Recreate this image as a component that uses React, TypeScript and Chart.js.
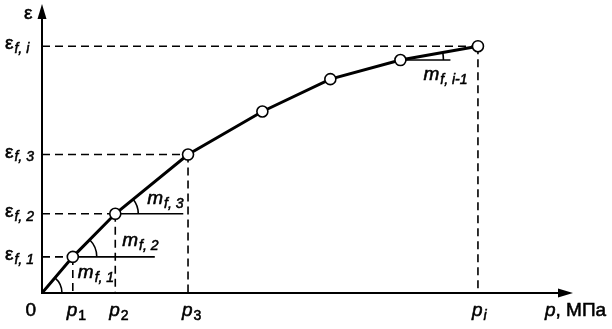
import React, { useEffect, useRef } from "react";
import { Chart, registerables } from "chart.js";
Chart.register(...registerables);

// Pressure p (arbitrary units along the axis) and strain ε (arbitrary units)
const pressure = [0, 5.8, 13.8, 27.5, 41.5, 54.3, 67.5, 82.1];
const strain = [0, 12.5, 27.4, 47.9, 62.8, 74.0, 80.6, 85.4];
// Points that get dashed projections and axis labels
const markedIndices = [1, 2, 3, 7];
const pLabelSubs = ["1", "2", "3", "i"];
const epsLabelSubs = ["f, 1", "f, 2", "f, 3", "f, i"];
// Secant slopes m_f: segment start index and subscript
const slopeStart = [0, 1, 2, 6];
const slopeSubs = ["f, 1", "f, 2", "f, 3", "f, i-1"];
const xAxisTitle = "p";
const xAxisUnit = ", МПа";
const yAxisTitle = "ε";
const originLabel = "0";

const FONT = "'Liberation Sans', Arial, sans-serif";
const THICK = 0.55;

function txt(ctx: CanvasRenderingContext2D, s: string, x: number, y: number) {
  ctx.fillText(s, x, y);
  ctx.lineWidth = THICK;
  ctx.strokeText(s, x, y);
}

function drawSub(ctx: CanvasRenderingContext2D, main: string, sub: string, x: number, y: number, mainFont: string, subFont: string, subDy = 5, gap = 1) {
  ctx.font = mainFont;
  ctx.textAlign = "left";
  ctx.textBaseline = "middle";
  txt(ctx, main, x, y);
  const w = ctx.measureText(main).width;
  ctx.font = subFont;
  txt(ctx, sub, x + w + gap, y + subDy);
}

const decorPlugin = {
  id: "decor",
  beforeDatasetsDraw(chart: any) {
    const { ctx, chartArea, scales } = chart;
    const X = (v: number) => scales.x.getPixelForValue(v);
    const Y = (v: number) => scales.y.getPixelForValue(v);
    const x0 = X(0);
    const y0 = Y(0);
    ctx.save();
    ctx.strokeStyle = "#000";
    ctx.fillStyle = "#000";

    // dashed projections
    ctx.lineWidth = 1.6;
    ctx.setLineDash([8, 5]);
    ctx.beginPath();
    markedIndices.forEach((i) => {
      const px = X(pressure[i]);
      const py = Y(strain[i]);
      ctx.moveTo(x0, py);
      ctx.lineTo(px, py);
      ctx.moveTo(px, py);
      ctx.lineTo(px, y0);
    });
    ctx.stroke();
    ctx.setLineDash([]);

    // axes
    ctx.lineWidth = 2;
    ctx.beginPath();
    ctx.moveTo(x0, y0);
    ctx.lineTo(x0, chartArea.top + 10);
    ctx.moveTo(x0 - 1, y0);
    ctx.lineTo(chartArea.right - 10, y0);
    ctx.stroke();
    // arrow heads
    ctx.beginPath();
    ctx.moveTo(x0, chartArea.top);
    ctx.lineTo(x0 - 4.5, chartArea.top + 15);
    ctx.lineTo(x0 + 4.5, chartArea.top + 15);
    ctx.closePath();
    ctx.fill();
    ctx.beginPath();
    ctx.moveTo(chartArea.right, y0);
    ctx.lineTo(chartArea.right - 15, y0 - 4.5);
    ctx.lineTo(chartArea.right - 15, y0 + 4.5);
    ctx.closePath();
    ctx.fill();

    // slope reference lines and angle arcs
    const refLen = [0, 82, 68, 50];
    const arcR = [20, 24, 23, 43];
    ctx.lineWidth = 1.6;
    slopeStart.forEach((s, k) => {
      const ax = X(pressure[s]);
      const ay = Y(strain[s]);
      const bx = X(pressure[s + 1]);
      const by = Y(strain[s + 1]);
      const ang = Math.atan2(by - ay, bx - ax);
      if (refLen[k] > 0) {
        ctx.beginPath();
        ctx.moveTo(ax, ay);
        ctx.lineTo(ax + refLen[k], ay);
        ctx.stroke();
      }
      ctx.beginPath();
      ctx.arc(ax, ay, arcR[k], ang, 0);
      ctx.stroke();
    });

    // labels
    const mainFont = `19px ${FONT}`;
    const italicFont = `italic 19px ${FONT}`;
    const subItalic = `italic 14px ${FONT}`;
    const subRegular = `14px ${FONT}`;

    // y labels
    markedIndices.forEach((i, k) => {
      const py = Y(strain[i]);
      drawSub(ctx, "ε", epsLabelSubs[k], 5, py - 2, mainFont, subItalic, 5, 1);
    });
    // x labels
    markedIndices.forEach((i, k) => {
      const px = X(pressure[i]);
      const sub = pLabelSubs[k];
      drawSub(ctx, "p", sub, px - 6, y0 + 18, italicFont, sub === "i" ? subItalic : subRegular, 5, 1);
    });
    // origin
    ctx.font = mainFont;
    ctx.textAlign = "right";
    ctx.textBaseline = "middle";
    txt(ctx, originLabel, x0 - 6, y0 + 18);
    // axis titles
    ctx.textAlign = "left";
    ctx.font = italicFont;
    txt(ctx, xAxisTitle, chartArea.right - 28, y0 + 18);
    const pw = ctx.measureText(xAxisTitle).width;
    ctx.font = mainFont;
    txt(ctx, xAxisUnit, chartArea.right - 28 + pw, y0 + 18);
    txt(ctx, yAxisTitle, x0 - 18, chartArea.top + 10);

    // slope labels
    const off = [
      [5, 16],
      [7, 27],
      [32, -15],
      [23, 15],
    ];
    const offBase = [1, 2, 2, 6];
    slopeStart.forEach((s, k) => {
      const b = offBase[k];
      const bx = X(pressure[b]);
      const by = Y(strain[b]);
      drawSub(ctx, "m", slopeSubs[k], bx + off[k][0], by + off[k][1], italicFont, subItalic, 5, 1);
    });

    ctx.restore();
  },
};

export default function App() {
  const ref = useRef<HTMLCanvasElement | null>(null);
  useEffect(() => {
    if (!ref.current) return;
    const chart = new Chart(ref.current, {
      type: "scatter",
      data: {
        datasets: [
          {
            data: pressure.map((p, i) => ({ x: p, y: strain[i] })),
            showLine: true,
            borderColor: "#000",
            borderWidth: 3,
            pointRadius: pressure.map((_, i) => (i === 0 ? 0 : 5.5)),
            pointBackgroundColor: "#fff",
            pointBorderColor: "#000",
            pointBorderWidth: 1.6,
            tension: 0,
          },
        ],
      },
      options: {
        responsive: false,
        animation: false,
        devicePixelRatio: 1,
        layout: { autoPadding: false, padding: { left: 42, right: 39, top: 4, bottom: 36 } },
        scales: {
          x: { type: "linear", min: 0, max: 100, display: false },
          y: { type: "linear", min: 0, max: 100, display: false },
        },
        plugins: { legend: { display: false }, tooltip: { enabled: false } },
      },
      plugins: [decorPlugin],
    });
    return () => chart.destroy();
  }, []);
  return (
    <div style={{ position: "absolute", left: 0, top: 0, width: 612, height: 329, background: "#fff" }}>
      <canvas ref={ref} width={612} height={329} />
    </div>
  );
}
